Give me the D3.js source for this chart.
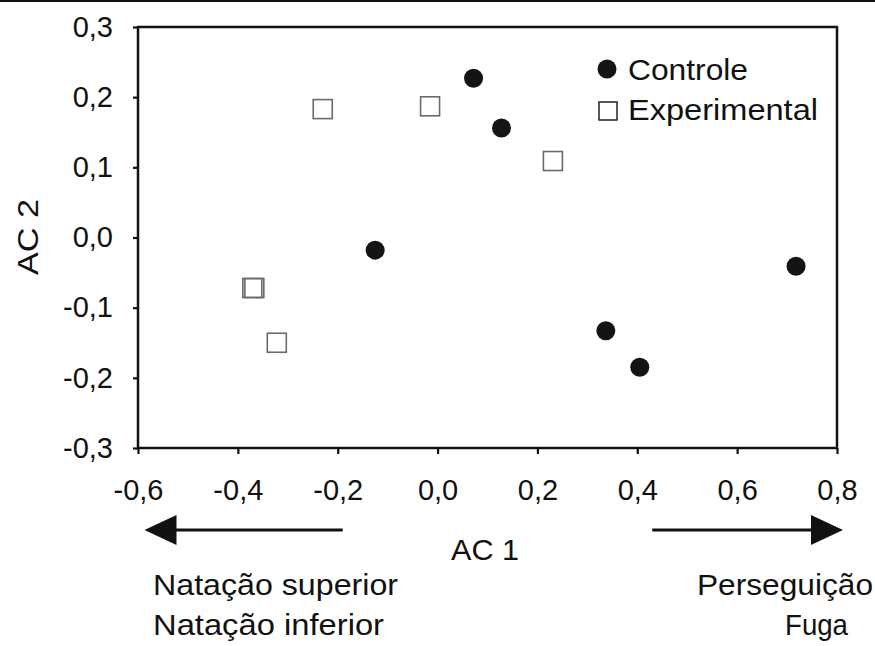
<!DOCTYPE html>
<html>
<head>
<meta charset="utf-8">
<script src="https://cdn.jsdelivr.net/npm/d3@7"></script>
<style>
  body { margin: 0; background: #fff; }
  svg { display: block; font-family: "Liberation Sans", Arial, sans-serif; }
</style>
</head>
<body>
<svg id="chart" width="875" height="646"></svg>
<script>
// dados (AC 1, AC 2)
const controleX = [0.072, 0.128, -0.125, 0.337, 0.405, 0.718];
const controleY = [0.227, 0.156, -0.018, -0.133, -0.185, -0.041];
const experimentalX = [-0.230, -0.015, 0.231, -0.371, -0.367, -0.322];
const experimentalY = [0.183, 0.187, 0.109, -0.072, -0.072, -0.150];
const xTicks = [-0.6, -0.4, -0.2, 0.0, 0.2, 0.4, 0.6, 0.8];
const yTicks = [-0.3, -0.2, -0.1, 0.0, 0.1, 0.2, 0.3];
const seriesNames = ["Controle", "Experimental"];

const svg = d3.select("#chart");
const plotLeft = 138, plotRight = 837, plotTop = 27, plotBottom = 448;
const fs = 29;

const x = d3.scaleLinear().domain([-0.6, 0.8]).range([plotLeft, plotRight]);
const y = d3.scaleLinear().domain([-0.3, 0.3]).range([plotBottom, plotTop]);
const fmt = d => d3.format(".1f")(d).replace(".", ",").replace("−", "-");

// linha no topo da figura
svg.append("line").attr("x1", 0).attr("x2", 875).attr("y1", 1).attr("y2", 1)
    .attr("stroke", "#111").attr("stroke-width", 2);

// eixos
const gx = svg.append("g").attr("transform", `translate(0,${plotBottom})`)
    .call(d3.axisBottom(x).tickValues(xTicks).tickFormat(fmt).tickSize(6).tickSizeOuter(0).tickPadding(25));
const gy = svg.append("g").attr("transform", `translate(${plotLeft},0)`)
    .call(d3.axisLeft(y).tickValues(yTicks).tickFormat(fmt).tickSize(5).tickSizeOuter(0).tickPadding(20));

[gx, gy].forEach(g => {
    g.select(".domain").remove();
    g.selectAll(".tick line").attr("stroke", "#111").attr("stroke-width", 2.2);
    g.selectAll(".tick text").attr("font-size", fs).attr("fill", "#111")
        .attr("font-family", "'Liberation Sans', Arial, sans-serif");
});

// moldura
svg.append("rect").attr("x", plotLeft).attr("y", plotTop)
    .attr("width", plotRight - plotLeft).attr("height", plotBottom - plotTop)
    .attr("fill", "none").attr("stroke", "#111").attr("stroke-width", 2.5);

// pontos experimentais (quadrados vazados)
const sq = 19;
svg.append("g").selectAll("rect")
    .data(experimentalX.map((d, i) => [d, experimentalY[i]]))
    .join("rect")
    .attr("x", d => x(d[0]) - sq / 2)
    .attr("y", d => y(d[1]) - sq / 2)
    .attr("width", sq).attr("height", sq)
    .attr("fill", "none").attr("stroke", "#6a6a6a").attr("stroke-width", 1.6);

// pontos controle (círculos cheios)
svg.append("g").selectAll("circle")
    .data(controleX.map((d, i) => [d, controleY[i]]))
    .join("circle")
    .attr("cx", d => x(d[0]))
    .attr("cy", d => y(d[1]))
    .attr("r", 9.5)
    .attr("fill", "#141414");

// legenda
svg.append("circle").attr("cx", 607).attr("cy", 69).attr("r", 9.5).attr("fill", "#141414");
svg.append("text").attr("x", 628).attr("y", 80).attr("font-size", fs).attr("fill", "#111")
    .attr("textLength", 120).attr("lengthAdjust", "spacingAndGlyphs").text(seriesNames[0]);
svg.append("rect").attr("x", 599).attr("y", 102).attr("width", 18).attr("height", 18)
    .attr("fill", "none").attr("stroke", "#222").attr("stroke-width", 1.5);
svg.append("text").attr("x", 628).attr("y", 120).attr("font-size", fs).attr("fill", "#111")
    .attr("textLength", 190).attr("lengthAdjust", "spacingAndGlyphs").text(seriesNames[1]);

// títulos dos eixos
svg.append("text").attr("x", 485).attr("y", 560).attr("text-anchor", "middle")
    .attr("font-size", fs).attr("fill", "#111")
    .attr("textLength", 68).attr("lengthAdjust", "spacingAndGlyphs").text("AC 1");
svg.append("text").attr("transform", "translate(38,237) rotate(-90)").attr("text-anchor", "middle")
    .attr("font-size", fs).attr("fill", "#111")
    .attr("textLength", 76).attr("lengthAdjust", "spacingAndGlyphs").text("AC 2");

// setas
const arrowY = 530;
function arrow(x1, x2) {
    const dir = Math.sign(x2 - x1);
    const head = 32;
    svg.append("line").attr("x1", x1).attr("x2", x2 - dir * head + dir * 2)
        .attr("y1", arrowY).attr("y2", arrowY)
        .attr("stroke", "#111").attr("stroke-width", 3);
    svg.append("path")
        .attr("d", `M${x2},${arrowY} L${x2 - dir * head},${arrowY - 15} L${x2 - dir * head},${arrowY + 15} Z`)
        .attr("fill", "#111");
}
arrow(x(-0.19), x(-0.587));
arrow(x(0.43), x(0.812));

// descrições
const notes = [
    { t: "Natação superior", x: 153, y: 595, w: 245 },
    { t: "Natação inferior", x: 153, y: 635, w: 231 },
    { t: "Perseguição", x: 697, y: 595, w: 176 },
    { t: "Fuga", x: 785, y: 635, w: 63 }
];
svg.append("g").selectAll("text").data(notes).join("text")
    .attr("x", d => d.x).attr("y", d => d.y)
    .attr("font-size", fs).attr("fill", "#111")
    .attr("textLength", d => d.w).attr("lengthAdjust", "spacingAndGlyphs")
    .text(d => d.t);
</script>
</body>
</html>
